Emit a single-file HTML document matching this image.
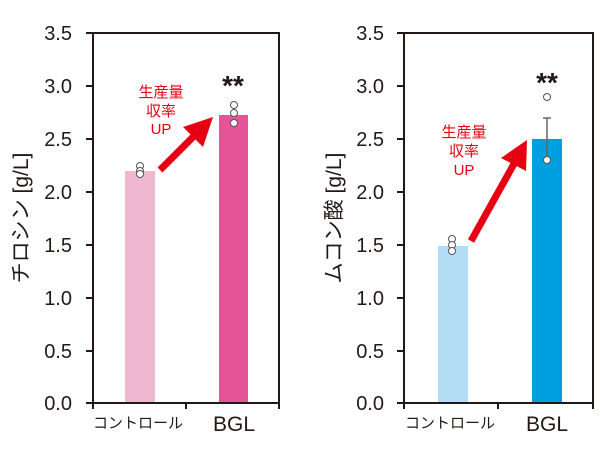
<!DOCTYPE html>
<html><head><meta charset="utf-8"><style>body{margin:0;background:#fff}</style></head><body>
<svg width="600" height="450" xmlns="http://www.w3.org/2000/svg" font-family="Liberation Sans, Noto Sans CJK JP, sans-serif">
<g>
<rect x="125" y="171" width="30" height="232" fill="#f0b8d0"/>
<rect x="219" y="115" width="29" height="288" fill="#e55496"/>
<rect x="93" y="33" width="186" height="370" fill="none" stroke="#231815" stroke-width="2"/>
<g stroke="#231815" stroke-width="2">
<line x1="86" y1="33" x2="93" y2="33"/><line x1="86" y1="86" x2="93" y2="86"/><line x1="86" y1="139" x2="93" y2="139"/><line x1="86" y1="192" x2="93" y2="192"/><line x1="86" y1="245" x2="93" y2="245"/><line x1="86" y1="298" x2="93" y2="298"/><line x1="86" y1="351" x2="93" y2="351"/><line x1="86" y1="403" x2="93" y2="403"/>
<line x1="93" y1="403" x2="93" y2="409"/><line x1="186" y1="403" x2="186" y2="409"/><line x1="279" y1="403" x2="279" y2="409"/>
</g>
<g font-size="20" fill="#231815" text-anchor="end">
<text x="72" y="40">3.5</text><text x="72" y="93">3.0</text><text x="72" y="146">2.5</text><text x="72" y="199">2.0</text><text x="72" y="252">1.5</text><text x="72" y="305">1.0</text><text x="72" y="358">0.5</text><text x="72" y="410">0.0</text>
</g>
<text x="138" y="428" font-size="15" fill="#231815" text-anchor="middle">コントロール</text>
<text x="234" y="431" font-size="21" fill="#231815" text-anchor="middle">BGL</text>
<text transform="translate(28,218) rotate(-90)" font-size="21" fill="#231815" text-anchor="middle">チロシン [g/L]</text>
<g fill="#fff" stroke="#555" stroke-width="1"><circle cx="140" cy="166" r="3.5"/><circle cx="140" cy="171" r="3.5"/><circle cx="140" cy="174" r="3.5"/><circle cx="234" cy="105" r="3.5"/><circle cx="234" cy="113" r="3.5"/><circle cx="234" cy="123" r="3.5"/></g>
<text x="233" y="95" font-size="28" font-weight="bold" text-anchor="middle" fill="#231815">**</text>
<g font-size="15" fill="#e60012" text-anchor="middle"><text x="161" y="97">生産量</text><text x="161" y="116">収率</text><text x="161" y="134">UP</text></g>
<line x1="160" y1="170" x2="195" y2="135" stroke="#e60012" stroke-width="7"/>
<polygon points="213,117 183,127 203,147" fill="#e60012"/>
</g>
<g>
<rect x="438" y="246" width="30" height="157" fill="#b3ddf4"/>
<rect x="532" y="139" width="30" height="264" fill="#00a0e0"/>
<rect x="404" y="33" width="189" height="370" fill="none" stroke="#231815" stroke-width="2"/>
<g stroke="#231815" stroke-width="2">
<line x1="397" y1="33" x2="404" y2="33"/><line x1="397" y1="86" x2="404" y2="86"/><line x1="397" y1="139" x2="404" y2="139"/><line x1="397" y1="192" x2="404" y2="192"/><line x1="397" y1="245" x2="404" y2="245"/><line x1="397" y1="298" x2="404" y2="298"/><line x1="397" y1="351" x2="404" y2="351"/><line x1="397" y1="403" x2="404" y2="403"/>
<line x1="404" y1="403" x2="404" y2="409"/><line x1="498" y1="403" x2="498" y2="409"/><line x1="593" y1="403" x2="593" y2="409"/>
</g>
<g font-size="20" fill="#231815" text-anchor="end">
<text x="384" y="40">3.5</text><text x="384" y="93">3.0</text><text x="384" y="146">2.5</text><text x="384" y="199">2.0</text><text x="384" y="252">1.5</text><text x="384" y="305">1.0</text><text x="384" y="358">0.5</text><text x="384" y="410">0.0</text>
</g>
<text x="450" y="428" font-size="15" fill="#231815" text-anchor="middle">コントロール</text>
<text x="547" y="431" font-size="21" fill="#231815" text-anchor="middle">BGL</text>
<text transform="translate(341,218) rotate(-90)" font-size="21" fill="#231815" text-anchor="middle">ムコン酸 [g/L]</text>
<line x1="547" y1="118" x2="547" y2="162" stroke="#666" stroke-width="1.5"/><line x1="543" y1="118" x2="551" y2="118" stroke="#666" stroke-width="1.5"/>
<g fill="#fff" stroke="#555" stroke-width="1"><circle cx="452" cy="239" r="3.5"/><circle cx="452" cy="245" r="3.5"/><circle cx="452" cy="251" r="3.5"/><circle cx="547" cy="97" r="3.5"/><circle cx="547" cy="160" r="3.5"/></g>
<text x="547" y="92" font-size="28" font-weight="bold" text-anchor="middle" fill="#231815">**</text>
<g font-size="15" fill="#e60012" text-anchor="middle"><text x="464" y="137">生産量</text><text x="464" y="156">収率</text><text x="464" y="175">UP</text></g>
<line x1="471" y1="241" x2="515" y2="162" stroke="#e60012" stroke-width="7"/>
<polygon points="527,140 501,158 526,171" fill="#e60012"/>
</g>
</svg>
</body></html>
